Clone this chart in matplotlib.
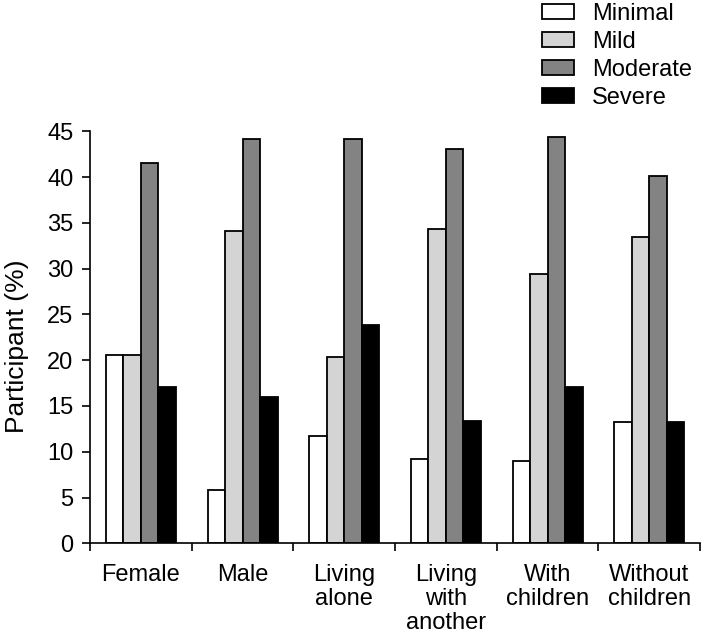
import numpy as np
import matplotlib
matplotlib.use("Agg")
import matplotlib.pyplot as plt

plt.rcParams["font.family"] = ["Liberation Sans", "DejaVu Sans"]

# ---------------------------------------------------
# Data
groups = ["Female", "Male", "Living\nalone", "Living\nwith\nanother",
          "With\nchildren", "Without\nchildren"]
levels = ["Minimal", "Mild", "Moderate", "Severe"]

minimal = [20.6, 5.8, 11.7, 9.2, 9.0, 13.2]
mild = [20.6, 34.1, 20.3, 34.3, 29.4, 33.5]
moderate = [41.5, 44.2, 44.2, 43.1, 44.4, 40.1]
severe = [17.1, 16.0, 23.8, 13.4, 17.1, 13.2]

colors = ["white", "#d4d4d4", "#838383", "black"]

# ---------------------------------------------------
fig = plt.figure(figsize=(7.03, 6.34), dpi=100)
ax = fig.add_axes([0.128, 0.143, 0.868, 0.650])

x = np.arange(len(groups)) + 0.5
width = 0.172
series = [minimal, mild, moderate, severe]
for i, (vals, name, col) in enumerate(zip(series, levels, colors)):
    ax.bar(x + (i - 1.5) * width, vals, width, color=col,
           edgecolor="black", linewidth=1.3, label=name)

ax.set_xlim(0, len(groups))
ax.set_ylim(0, 45)
ax.set_yticks(np.arange(0, 46, 5))

# group boundaries as major ticks, labels in between
ax.set_xticks(np.arange(0, len(groups) + 1))
ax.set_xticklabels([])
ax.set_xticks(x, minor=True)
ax.set_xticklabels(groups, minor=True, linespacing=1.1)
ax.tick_params(axis="x", which="minor", length=0, pad=15, labelsize=17)
ax.tick_params(axis="x", which="major", length=6, width=1.2, direction="out")
ax.tick_params(axis="y", length=6, width=1.2, labelsize=17, pad=6)

ax.spines["top"].set_visible(False)
ax.spines["right"].set_visible(False)
ax.spines["left"].set_linewidth(1.2)
ax.spines["bottom"].set_linewidth(1.2)

ax.set_ylabel("Participant (%)", fontsize=19)
ax.yaxis.set_label_coords(-0.10, 0.478)

ax.legend(loc="upper left", bbox_to_anchor=(0.748, 1.021),
          bbox_transform=fig.transFigure, frameon=False, fontsize=17,
          handlelength=1.36, handleheight=0.6, labelspacing=0.25,
          handletextpad=0.75, borderpad=0.2)

plt.savefig("out.png", dpi=100)
